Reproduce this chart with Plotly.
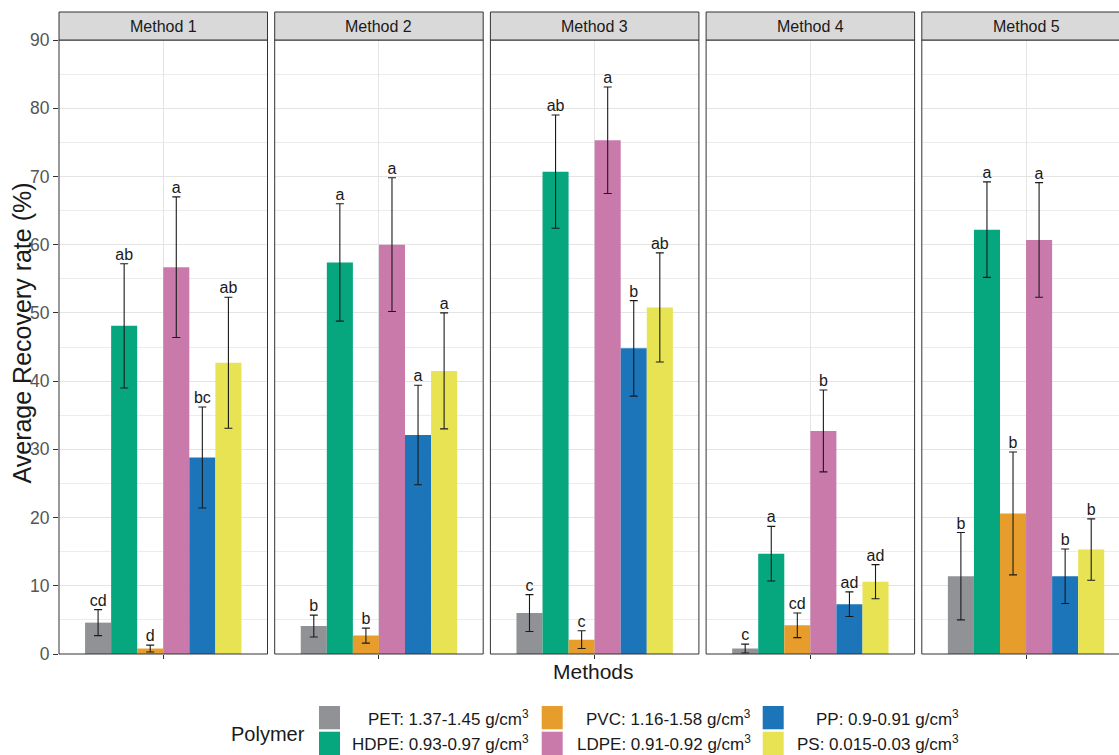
import plotly.graph_objects as go

# ---- data -------------------------------------------------------------
methods = ["Method 1", "Method 2", "Method 3", "Method 4", "Method 5"]
polymers = ["PET", "HDPE", "PVC", "LDPE", "PP", "PS"]
densities = ["1.37-1.45", "0.93-0.97", "1.16-1.58", "0.91-0.92", "0.9-0.91", "0.015-0.03"]
colors = ["#919295", "#06A67E", "#E69D2B", "#C97AAB", "#1C74B9", "#E8E352"]

# mean recovery rate (%) for each polymer across Method 1..5
pet_mean = [4.6, 4.1, 6.0, 0.8, 11.4]
hdpe_mean = [48.1, 57.4, 70.7, 14.7, 62.2]
pvc_mean = [0.8, 2.7, 2.1, 4.2, 20.6]
ldpe_mean = [56.7, 60.0, 75.3, 32.7, 60.7]
pp_mean = [28.8, 32.1, 44.8, 7.3, 11.4]
ps_mean = [42.7, 41.5, 50.8, 10.6, 15.3]

# standard deviations
pet_sd = [1.9, 1.6, 2.7, 0.65, 6.4]
hdpe_sd = [9.1, 8.6, 8.3, 4.0, 7.0]
pvc_sd = [0.5, 1.1, 1.3, 1.8, 9.0]
ldpe_sd = [10.3, 9.8, 7.8, 6.0, 8.4]
pp_sd = [7.4, 7.3, 7.0, 1.8, 4.0]
ps_sd = [9.6, 8.5, 8.0, 2.5, 4.5]

# significance letters
pet_grp = ["cd", "b", "c", "c", "b"]
hdpe_grp = ["ab", "a", "ab", "a", "a"]
pvc_grp = ["d", "b", "c", "cd", "b"]
ldpe_grp = ["a", "a", "a", "b", "a"]
pp_grp = ["bc", "a", "b", "ad", "b"]
ps_grp = ["ab", "a", "ab", "ad", "b"]

means = [pet_mean, hdpe_mean, pvc_mean, ldpe_mean, pp_mean, ps_mean]
sds = [pet_sd, hdpe_sd, pvc_sd, ldpe_sd, pp_sd, ps_sd]
groups = [pet_grp, hdpe_grp, pvc_grp, ldpe_grp, pp_grp, ps_grp]

# ---- geometry ---------------------------------------------------------
W, H = 1119, 755
ML, MT, MB = 59, 40, 101
PW = W - ML              # plotting width in px
PH = H - MT - MB         # plotting height in px
panel_step = 215.7
panel_w = 208.5

FONT = "Liberation Sans, Arial, sans-serif"
INK = "#1A1A1A"
BORDER = "#333333"
GRID = "#E4E4E4"
GRID_MINOR = "#ECECEC"


def fx(px):
    return (px - ML) / PW


def fy(py):
    return (MT + PH - py) / PH


fig = go.Figure()

for i, m in enumerate(methods):
    xa = "x" if i == 0 else f"x{i + 1}"
    for j, p in enumerate(polymers):
        mu, sd, g = means[j][i], sds[j][i], groups[j][i]
        fig.add_trace(go.Bar(
            x=[m], y=[mu], name=p, offsetgroup=p,
            marker=dict(color=colors[j], line=dict(width=0)),
            error_y=dict(type="data", array=[sd], color=INK, thickness=1.1, width=4),
            xaxis=xa, yaxis="y", showlegend=False,
        ))
        fig.add_trace(go.Scatter(
            x=[m], y=[mu + sd], mode="text", text=[g], textposition="top center",
            textfont=dict(family=FONT, size=16, color=INK), offsetgroup=p,
            xaxis=xa, yaxis="y", showlegend=False, cliponaxis=False, hoverinfo="skip",
        ))

layout = dict(
    width=W, height=H,
    margin=dict(l=ML, r=0, t=MT, b=MB, pad=0),
    paper_bgcolor="white", plot_bgcolor="white",
    barmode="group", bargap=0.25, bargroupgap=0,
    scattermode="group", scattergap=0.25,
    font=dict(family=FONT, color=INK),
    yaxis=dict(
        domain=[0, 1], range=[0, 90], anchor="x", dtick=10, tick0=0,
        showgrid=True, gridcolor=GRID, gridwidth=1.1, zeroline=False,
        ticks="outside", ticklen=5, tickwidth=1, tickcolor=BORDER,
        tickfont=dict(family=FONT, size=17.5, color="#555555"),
        minor=dict(dtick=5, tick0=0, showgrid=True, gridcolor=GRID_MINOR, gridwidth=1, ticks=""),
        showline=False,
    ),
    showlegend=False,
)

shapes = []
annotations = []
for i, m in enumerate(methods):
    key = "xaxis" if i == 0 else f"xaxis{i + 1}"
    xa = "x" if i == 0 else f"x{i + 1}"
    left = ML + i * panel_step
    right = min(left + panel_w, W)
    vis = right - left
    hi = -0.5 + vis / panel_w
    layout[key] = dict(
        domain=[fx(left), fx(right)], anchor="y", range=[-0.5, hi],
        type="category", showticklabels=False,
        ticks="outside", ticklen=4, tickwidth=1, tickcolor=BORDER,
        showgrid=True, gridcolor=GRID, gridwidth=1.1, zeroline=False, showline=False,
    )
    full = panel_w / vis
    # panel border
    shapes.append(dict(type="rect", xref=f"{xa} domain", yref="y domain",
                       x0=0, x1=full, y0=0, y1=1,
                       line=dict(color=BORDER, width=1), fillcolor="rgba(0,0,0,0)", layer="above"))
    # strip
    shapes.append(dict(type="rect", xref=f"{xa} domain", yref="paper",
                       x0=0, x1=full, y0=1, y1=fy(12),
                       line=dict(color=BORDER, width=1), fillcolor="#D9D9D9", layer="above"))
    annotations.append(dict(text=m, xref=f"{xa} domain", yref="paper",
                            x=0.5 * full, y=fy(26.5), xanchor="center", yanchor="middle",
                            showarrow=False, font=dict(family=FONT, size=16, color=INK)))

# axis titles
annotations.append(dict(text="Methods", xref="paper", yref="paper",
                        x=fx(593.5), y=fy(671), xanchor="center", yanchor="middle",
                        showarrow=False, font=dict(family=FONT, size=21, color=INK)))
annotations.append(dict(text="Average Recovery rate (%)", xref="paper", yref="paper",
                        x=fx(21.5), y=fy(333), xanchor="center", yanchor="middle", textangle=-90,
                        showarrow=False, font=dict(family=FONT, size=25, color=INK)))

# legend
annotations.append(dict(text="Polymer", xref="paper", yref="paper",
                        x=fx(229), y=fy(734), xanchor="left", yanchor="middle",
                        showarrow=False, font=dict(family=FONT, size=20, color=INK)))
sq_left = [319, 541.7, 762.7]
txt_right = [531, 753, 961]
row_top = [706, 731.7]
row_bot = [729.3, 755]
for j, p in enumerate(polymers):
    c, r = j // 2, j % 2
    shapes.append(dict(type="rect", xref="paper", yref="paper",
                       x0=fx(sq_left[c]), x1=fx(sq_left[c] + 21),
                       y0=fy(row_bot[r]), y1=fy(row_top[r]),
                       line=dict(width=0), fillcolor=colors[j], layer="above"))
    annotations.append(dict(text=f"{p}: {densities[j]} g/cm<sup>3</sup>",
                            xref="paper", yref="paper",
                            x=fx(txt_right[c]), y=fy((row_top[r] + row_bot[r]) / 2),
                            xanchor="right", yanchor="middle", showarrow=False,
                            font=dict(family=FONT, size=17, color=INK)))

layout["shapes"] = shapes
layout["annotations"] = annotations
fig.update_layout(**layout)

fig.write_html("out.html")
